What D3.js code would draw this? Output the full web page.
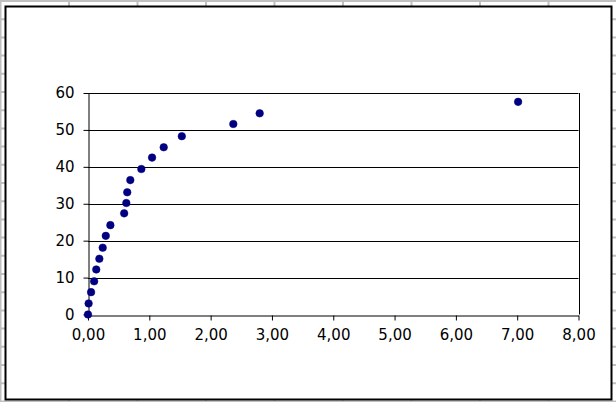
<!DOCTYPE html>
<html><head><meta charset="utf-8">
<script src="https://cdn.jsdelivr.net/npm/d3@7"></script>
<style>html,body{margin:0;padding:0;background:#fff;}svg{display:block;}</style>
</head><body>
<svg id="c" width="616" height="402"></svg>
<script>
const xValues = [0, 0.01, 0.05, 0.10, 0.135, 0.185, 0.24, 0.29, 0.365, 0.59, 0.625, 0.64, 0.69, 0.87, 1.045, 1.235, 1.53, 2.37, 2.80, 7.015];
const yValues = [0, 3, 6.05, 9.0, 12.2, 15.1, 18.1, 21.3, 24.2, 27.4, 30.2, 33.1, 36.4, 39.4, 42.5, 45.3, 48.3, 51.6, 54.5, 57.6];
const xTicks = [0, 1, 2, 3, 4, 5, 6, 7, 8];
const yTicks = [0, 10, 20, 30, 40, 50, 60];

const svg = d3.select("#c");
const W = 616, H = 402;

// spreadsheet cell grid behind the chart
const colLines = d3.range(0, 10).map(i => i * 68.5 + 0.5);
const rowLines = d3.range(0, 23).map(i => i * 18.2 + 1);
svg.append("g").selectAll("line").data(colLines).join("line")
  .attr("x1", d => d).attr("x2", d => d).attr("y1", 0).attr("y2", H)
  .attr("stroke", "#c0c0c0").attr("stroke-width", 2);
svg.append("g").selectAll("line").data(rowLines).join("line")
  .attr("y1", d => d).attr("y2", d => d).attr("x1", 0).attr("x2", W)
  .attr("stroke", "#c0c0c0").attr("stroke-width", 2);

// chart area
svg.append("rect").attr("x", 5.5).attr("y", 6.5).attr("width", 606).attr("height", 393)
  .attr("fill", "#fff").attr("stroke", "#000").attr("stroke-width", 2);

const x = d3.scaleLinear().domain([0, 8]).range([88, 578.5]);
const y = d3.scaleLinear().domain([0, 60]).range([314.5, 93]);

// gridlines
svg.append("g").selectAll("line").data(yTicks.filter(d => d > 0)).join("line")
  .attr("x1", x(0)).attr("x2", x(8))
  .attr("y1", d => Math.round(y(d)) + 0.5).attr("y2", d => Math.round(y(d)) + 0.5)
  .attr("stroke", "#000").attr("stroke-width", 1);
// plot area right border
svg.append("line").attr("x1", Math.round(x(8)) + 0.5).attr("x2", Math.round(x(8)) + 0.5)
  .attr("y1", y(60)).attr("y2", y(0)).attr("stroke", "#000");

const font = "'DejaVu Sans', Verdana, sans-serif";
const fmt = d => d.toFixed(2).replace(".", ",");

const xAxis = svg.append("g").attr("transform", `translate(0,${Math.round(y(0)) + 0.5})`)
  .call(d3.axisBottom(x).tickValues(xTicks).tickFormat(fmt).tickSize(5).tickSizeOuter(0).tickPadding(13));
const yAxis = svg.append("g").attr("transform", `translate(${Math.round(x(0)) + 0.5},0)`)
  .call(d3.axisLeft(y).tickValues(yTicks).tickSize(5).tickSizeOuter(0).tickPadding(9));
[xAxis, yAxis].forEach(g => {
  g.selectAll("path, line").attr("stroke", "#000").attr("stroke-width", 1);
  g.selectAll("text").attr("fill", "#000").style("font-family", font).style("font-size", "15px");
});
xAxis.selectAll("text").attr("dy", "0.42em");

// points
svg.append("g").selectAll("circle").data(xValues.map((v, i) => [v, yValues[i]])).join("circle")
  .attr("cx", d => x(d[0])).attr("cy", d => y(d[1])).attr("r", 3.8)
  .attr("fill", "#000080").attr("stroke", "#000080").attr("stroke-width", 0.5);
</script>
</body></html>
